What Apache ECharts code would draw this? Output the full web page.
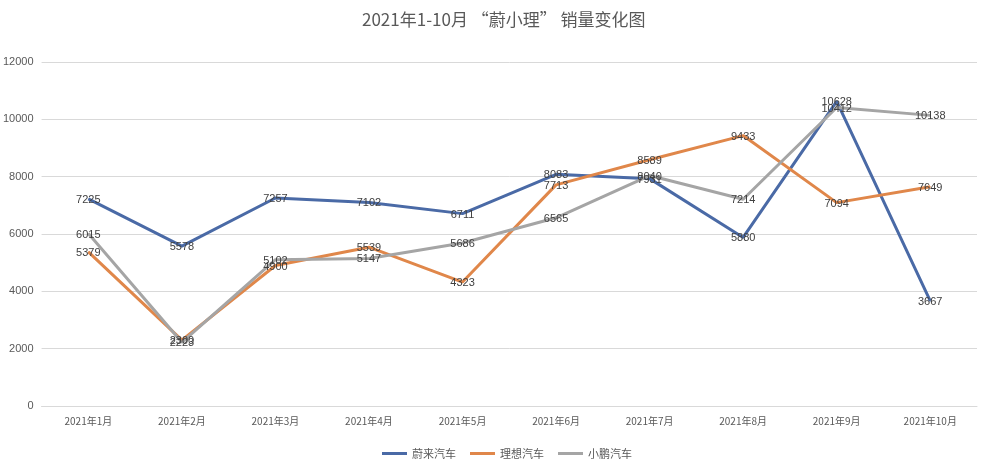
<!DOCTYPE html>
<html><head><meta charset="utf-8">
<script src="https://cdn.jsdelivr.net/npm/echarts@6/dist/echarts.min.js"></script>
<style>html,body{margin:0;padding:0;background:#fff}#c{width:981px;height:466px}</style>
</head><body><div id="c"></div>
<script>
const categories = ['2021年1月','2021年2月','2021年3月','2021年4月','2021年5月','2021年6月','2021年7月','2021年8月','2021年9月','2021年10月'];
const nio = [7225, 5578, 7257, 7102, 6711, 8083, 7931, 5880, 10628, 3667];
const li = [5379, 2300, 4900, 5539, 4323, 7713, 8589, 9433, 7094, 7649];
const xpeng = [6015, 2223, 5102, 5147, 5686, 6565, 8040, 7214, 10412, 10138];
const seriesNames = ['蔚来汽车','理想汽车','小鹏汽车'];
const colors = ['#4A6AA6','#E0874A','#A5A5A5'];
const font = '"Noto Sans CJK SC", "Liberation Sans", sans-serif';
const chart = echarts.init(document.getElementById('c'));
function mk(name, data, color){
  return {name, type:'line', data, symbol:'circle', symbolSize:1, showSymbol:true, color,
    itemStyle:{color},
    lineStyle:{width:3, color},
    label:{show:true, position:'top', distance:-7, color:'#404040', fontSize:11, fontFamily:'"Liberation Sans", sans-serif'},
    labelLayout:{hideOverlap:false},
    z: 2};
}
chart.setOption({
  animation:false,
  title:{text:'2021年1-10月 “蔚小理” 销量变化图', left:357, top:6,
    textStyle:{fontSize:17, fontWeight:'normal', color:'#595959', fontFamily:font}},
  legend:{left:377, top:443, itemWidth:25, itemHeight:3, icon:'rect', itemGap:14,
    textStyle:{color:'#595959', fontSize:11, fontFamily:font}},
  grid:{left:41, right:4, top:62, bottom:60},
  xAxis:{type:'category', data:categories, boundaryGap:true,
    axisLine:{lineStyle:{color:'#D9D9D9'}}, axisTick:{show:false},
    axisLabel:{color:'#595959', fontSize:10, fontFamily:font, margin:10}},
  yAxis:{type:'value', min:0, max:12000, interval:2000,
    axisLabel:{color:'#595959', fontSize:11, fontFamily:'"Liberation Sans", sans-serif', margin:8, formatter:v=>String(v)},
    splitLine:{lineStyle:{color:'#D9D9D9'}}, axisLine:{show:false}},
  series:[mk(seriesNames[0], nio, colors[0]), mk(seriesNames[1], li, colors[1]), mk(seriesNames[2], xpeng, colors[2])]
});
</script></body></html>
